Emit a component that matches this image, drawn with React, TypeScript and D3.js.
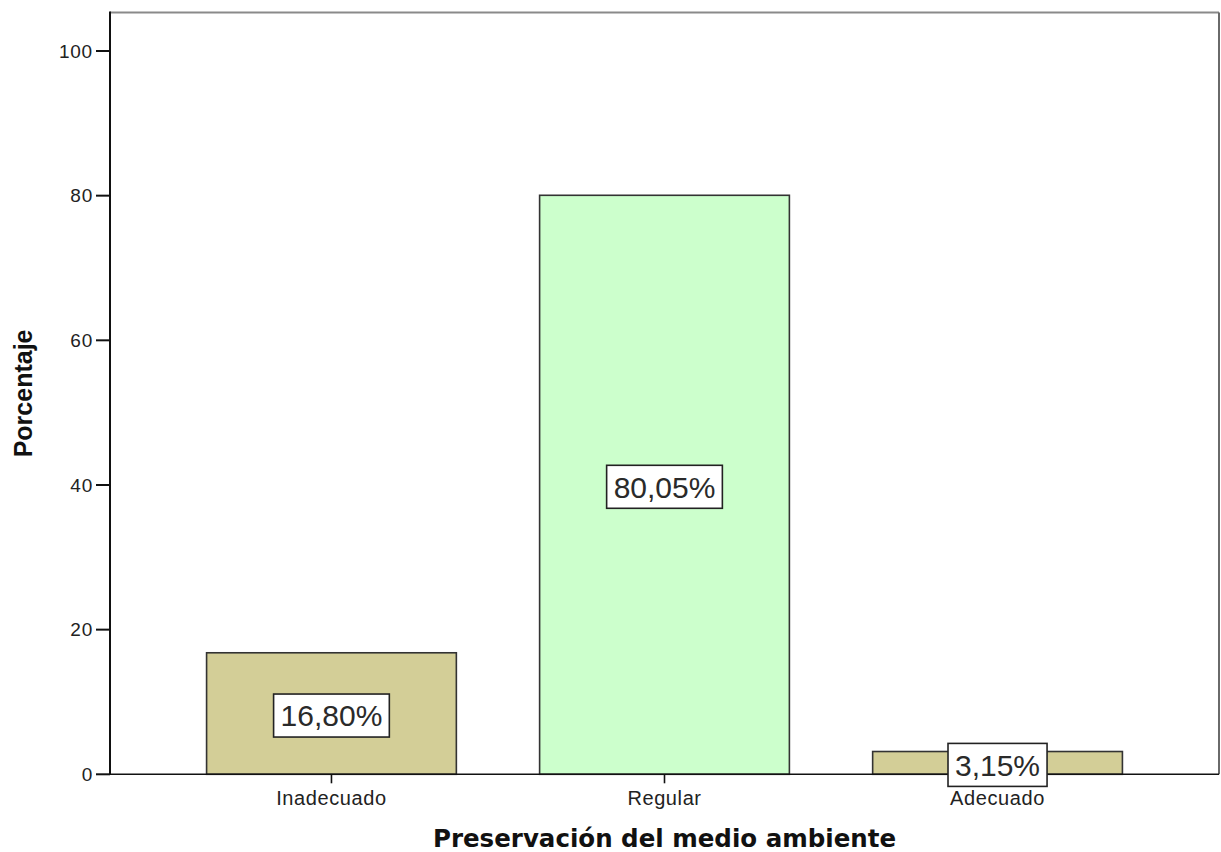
import React from 'react';
import * as d3 from 'd3';

const categories = ['Inadecuado', 'Regular', 'Adecuado'];
const percentages = [16.8, 80.05, 3.15];
const barColors = ['#d3ce97', '#ccffcc', '#d3ce97'];
const yTicks = [0, 20, 40, 60, 80, 100];

const W = 1221;
const H = 852;
const plot = { left: 110, right: 1219, top: 12.5, bottom: 774.3 };

// Approximate advance widths (em) for Arial-metric digits and symbols
const glyphWidth = (ch: string) => (ch === ',' || ch === '.' ? 0.278 : ch === '%' ? 0.889 : 0.556);
const textWidth = (s: string, size: number) => s.split('').reduce((a, c) => a + glyphWidth(c), 0) * size;

const fmt = (v: number) => v.toFixed(2).replace('.', ',') + '%';

export default function App() {
  const x = d3
    .scaleBand<string>()
    .domain(categories)
    .range([plot.left, plot.right])
    .paddingInner(0.25)
    .paddingOuter(0.29);
  const y = d3.scaleLinear().domain([0, 100]).range([plot.bottom, 51]);

  const labelSize = 30;
  const tickFont = '"Liberation Sans", Arial, sans-serif';

  return (
    <svg width={W} height={H} style={{ position: 'absolute', left: 0, top: 0, background: '#fff' }}>
      <rect x={0} y={0} width={W} height={H} fill="#fff" />

      {/* frame: top and right edges */}
      <line x1={plot.left} x2={plot.right} y1={plot.top} y2={plot.top} stroke="#8a8a8a" strokeWidth={2} />
      <line x1={plot.right} x2={plot.right} y1={plot.top} y2={plot.bottom} stroke="#6a6a6a" strokeWidth={2} />

      {/* bars */}
      {categories.map((c, i) => {
        const x0 = x(c)!;
        const y0 = y(percentages[i]);
        return (
          <rect
            key={c}
            x={x0}
            y={y0}
            width={x.bandwidth()}
            height={y(0) - y0}
            fill={barColors[i]}
            stroke="#333"
            strokeWidth={1.6}
          />
        );
      })}

      {/* axes */}
      <line x1={plot.left} x2={plot.left} y1={plot.top - 1} y2={plot.bottom} stroke="#111" strokeWidth={2} />
      <line x1={plot.left} x2={plot.right} y1={plot.bottom} y2={plot.bottom} stroke="#111" strokeWidth={1.6} />

      {yTicks.map((t) => (
        <g key={t} transform={`translate(0,${y(t)})`}>
          <line x1={96} x2={plot.left} stroke="#111" strokeWidth={2} />
          <text
            x={93}
            dy="0.35em"
            textAnchor="end"
            fontFamily={tickFont}
            fontSize={19}
            letterSpacing={0.8}
            fill="#222"
          >
            {t}
          </text>
        </g>
      ))}

      {categories.map((c) => {
        const cx = x(c)! + x.bandwidth() / 2;
        return (
          <g key={c}>
            <line x1={cx} x2={cx} y1={plot.bottom} y2={plot.bottom + 9} stroke="#111" strokeWidth={1.6} />
            <text
              x={cx}
              y={805}
              textAnchor="middle"
              fontFamily={tickFont}
              fontSize={20}
              letterSpacing={0.6}
              fill="#222"
            >
              {c}
            </text>
          </g>
        );
      })}

      {/* value labels */}
      {categories.map((c, i) => {
        const cx = x(c)! + x.bandwidth() / 2;
        const cy = (y(percentages[i]) + y(0)) / 2 + 2;
        const s = fmt(percentages[i]);
        const w = textWidth(s, labelSize) + 14;
        const h = 43;
        return (
          <g key={c}>
            <rect x={cx - w / 2} y={cy - h / 2} width={w} height={h} fill="#fff" stroke="#222" strokeWidth={1.6} />
            <text
              x={cx}
              y={cy}
              dy="0.36em"
              textAnchor="middle"
              fontFamily={tickFont}
              fontSize={labelSize}
              fill="#2a2a2a"
            >
              {s}
            </text>
          </g>
        );
      })}

      {/* axis titles */}
      <text
        x={(plot.left + plot.right) / 2}
        y={847}
        textAnchor="middle"
        fontFamily='"DejaVu Sans", Verdana, sans-serif'
        fontWeight="bold"
        fontSize={24.5}
        fill="#111"
      >
        Preservación del medio ambiente
      </text>
      <text
        transform={`translate(32,${(plot.top + plot.bottom) / 2}) rotate(-90)`}
        textAnchor="middle"
        fontFamily={tickFont}
        fontWeight="bold"
        fontSize={25}
        fill="#111"
      >
        Porcentaje
      </text>
    </svg>
  );
}
